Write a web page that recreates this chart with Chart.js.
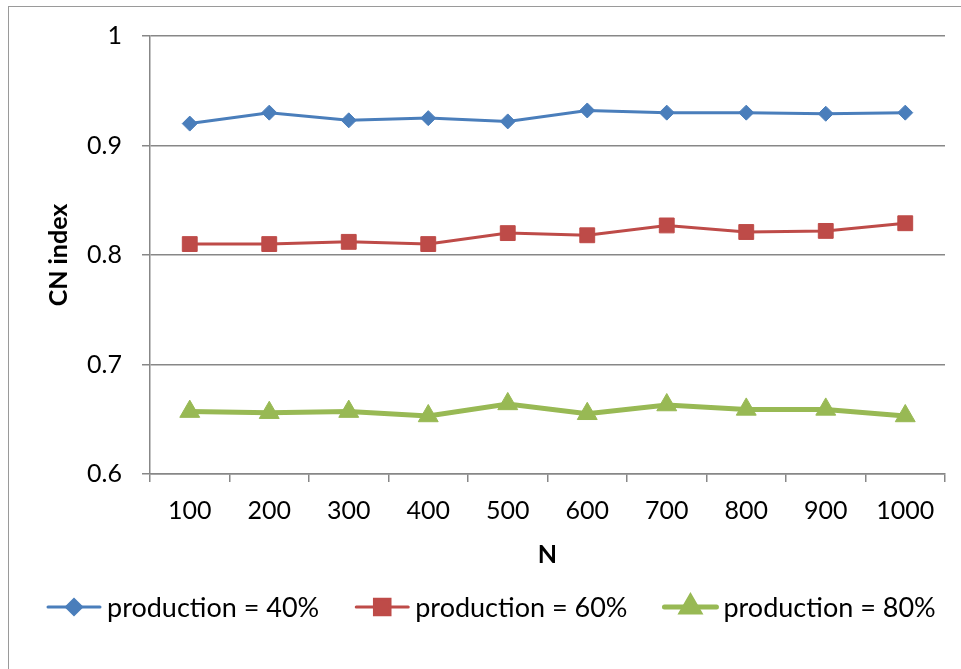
<!DOCTYPE html>
<html>
<head>
<meta charset="utf-8">
<title>CN index vs N</title>
<script src="https://cdn.jsdelivr.net/npm/chart.js@4.4.1/dist/chart.umd.min.js"></script>
<style>
  html, body { margin: 0; padding: 0; background: #fff; }
  #wrap { position: relative; width: 961px; height: 669px; }
</style>
</head>
<body>
<div id="wrap"><canvas id="cnChart"></canvas></div>
<script>
// N values on the x axis
const nLabels = ["100", "200", "300", "400", "500", "600", "700", "800", "900", "1000"];

// CN index per production level
const prod40 = [0.920, 0.930, 0.923, 0.925, 0.922, 0.932, 0.930, 0.930, 0.929, 0.930];
const prod60 = [0.810, 0.810, 0.812, 0.810, 0.820, 0.818, 0.827, 0.821, 0.822, 0.829];
const prod80 = [0.657, 0.656, 0.657, 0.653, 0.664, 0.655, 0.663, 0.659, 0.659, 0.653];

const seriesNames = ["production = 40%", "production = 60%", "production = 80%"];
const yTicks = [0.6, 0.7, 0.8, 0.9, 1];

const BLUE = "#4A7EBB";
const RED = "#BE4B48";
const GREEN = "#98B954";
const GRID = "#878787";
const FONT = "Lato, 'Open Sans', sans-serif";

// light frame round the whole chart
const framePlugin = {
  id: "frame",
  beforeDraw(chart) {
    const ctx = chart.ctx;
    ctx.save();
    ctx.strokeStyle = "#9a9a9a";
    ctx.lineWidth = 1;
    ctx.strokeRect(8.5, 6.5, chart.width + 20, chart.height + 20);
    ctx.restore();
  }
};

// one-row legend under the axis title: line sample with marker, then the name
const legendMarkers = [
  { style: "rectRot", radius: 7.5 },
  { style: "rect", radius: 11 },
  { style: "triangle", radius: 10 }
];
const rowLegend = {
  id: "rowLegend",
  afterDraw(chart) {
    const ctx = chart.ctx;
    const y = 607;
    let x = 48;
    ctx.save();
    ctx.font = "27px " + FONT;
    ctx.textBaseline = "middle";
    ctx.textAlign = "left";
    chart.data.datasets.forEach((ds, i) => {
      ctx.strokeStyle = ds.borderColor;
      ctx.fillStyle = ds.borderColor;
      ctx.lineWidth = ds.borderWidth;
      ctx.lineCap = "round";
      ctx.beginPath();
      ctx.moveTo(x, y);
      ctx.lineTo(x + 52, y);
      ctx.stroke();
      const m = legendMarkers[i];
      Chart.helpers.drawPoint(ctx, { pointStyle: m.style, radius: m.radius, borderWidth: 1, rotation: 0 }, x + 26, y);
      ctx.fillStyle = "#000";
      ctx.fillText(ds.label, x + 59, y + 1);
      x += 59 + ctx.measureText(ds.label).width + 37;
    });
    ctx.restore();
  }
};

new Chart(document.getElementById("cnChart"), {
  type: "line",
  data: {
    labels: nLabels,
    datasets: [
      {
        label: seriesNames[0],
        data: prod40,
        borderColor: BLUE,
        backgroundColor: BLUE,
        borderWidth: 3,
        pointStyle: "rectRot",
        pointRadius: 7.5,
        pointBorderWidth: 1
      },
      {
        label: seriesNames[1],
        data: prod60,
        borderColor: RED,
        backgroundColor: RED,
        borderWidth: 3,
        pointStyle: "rect",
        pointRadius: 10.5,
        pointBorderWidth: 1
      },
      {
        label: seriesNames[2],
        data: prod80,
        borderColor: GREEN,
        backgroundColor: GREEN,
        borderWidth: 5,
        pointStyle: "triangle",
        pointRadius: 11.5,
        pointBorderWidth: 1
      }
    ]
  },
  options: {
    responsive: true,
    maintainAspectRatio: false,
    animation: false,
    layout: { padding: { left: 44, right: 16, top: 36, bottom: 95 } },
    plugins: {
      tooltip: { enabled: false },
      legend: { display: false }
    },
    scales: {
      x: {
        offset: true,
        grid: {
          offset: true,
          drawOnChartArea: false,
          drawTicks: true,
          tickLength: 8,
          color: GRID,
          lineWidth: 1.5
        },
        border: { color: GRID, width: 1.5 },
        ticks: {
          color: "#000",
          padding: 14,
          maxRotation: 0,
          font: { family: FONT, size: 25 }
        },
        title: {
          display: true,
          text: "N",
          color: "#000",
          font: { family: FONT, size: 25, weight: "bold" },
          padding: { top: 10, bottom: 4 }
        },
        afterFit(scale) { scale.height = 100; }
      },
      y: {
        min: 0.6,
        max: 1,
        afterBuildTicks(scale) {
          scale.ticks = yTicks.map(v => ({ value: v }));
        },
        grid: {
          color: GRID,
          lineWidth: 1.5,
          tickLength: 8
        },
        border: { color: GRID, width: 1.5 },
        ticks: {
          color: "#000",
          padding: 20,
          font: { family: FONT, size: 25 },
          callback: v => String(Math.round(v * 10) / 10)
        },
        title: {
          display: true,
          text: "CN index",
          color: "#000",
          font: { family: FONT, size: 25, weight: "bold" },
          padding: { top: 0, bottom: 4 }
        },
        afterFit(scale) { scale.width = 106; }
      }
    }
  },
  plugins: [framePlugin, rowLegend]
});
</script>
</body>
</html>
